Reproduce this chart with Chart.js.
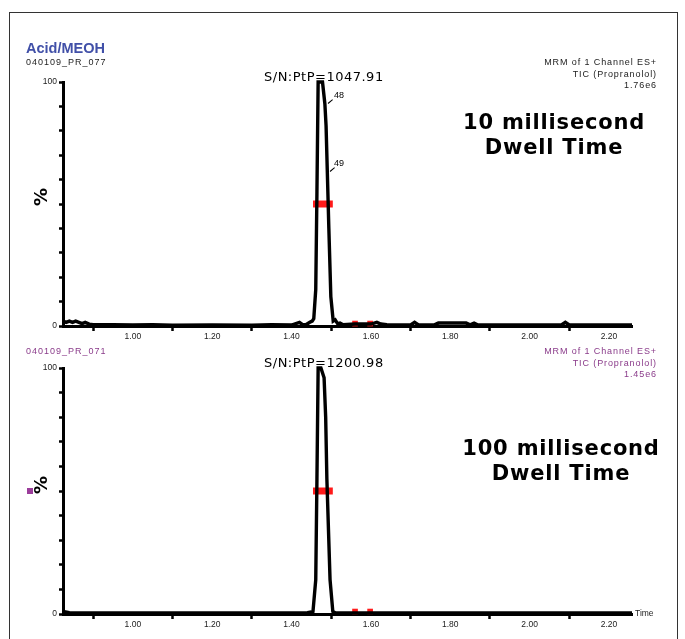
<!DOCTYPE html>
<html><head><meta charset="utf-8">
<script src="https://cdn.jsdelivr.net/npm/chart.js@4/dist/chart.umd.min.js"></script>
<style>
html,body{margin:0;padding:0;background:#fff;}
body{width:685px;height:639px;position:relative;overflow:hidden;font-family:"Liberation Sans",Arial,sans-serif;}
.frame{position:absolute;left:9px;top:12px;width:667px;height:640px;border:1px solid #333;}
canvas{position:absolute;left:0;}
.t{position:absolute;white-space:nowrap;line-height:1;}
.hdr{font-size:9px;letter-spacing:1px;color:#222;}
.rh{position:absolute;right:28px;text-align:right;font-size:9px;letter-spacing:0.9px;line-height:11.5px;white-space:nowrap;}
.sn{font-family:"DejaVu Sans",sans-serif;font-size:13px;letter-spacing:0.5px;color:#000;}
.big{position:absolute;width:240px;text-align:center;font-family:"DejaVu Sans",sans-serif;font-weight:bold;font-size:21px;letter-spacing:0.8px;line-height:25px;color:#000;}
.pct{position:absolute;font-family:"DejaVu Sans",sans-serif;font-weight:bold;font-size:18px;transform:rotate(-90deg);line-height:1;color:#000;}
.pk{font-size:9px;color:#000;}
.hook{position:absolute;width:6px;height:0;border-top:1.5px solid #000;transform:rotate(-40deg);transform-origin:left center;}
</style></head><body>
<div class="frame"></div>
<canvas id="c1" width="685" height="345" style="top:0"></canvas>
<canvas id="c2" width="685" height="294" style="top:345px"></canvas>

<div class="t" style="left:26px;top:41px;font-size:14.5px;font-weight:bold;color:#4150a8;">Acid/MEOH</div>
<div class="t hdr" style="left:26px;top:58px;">040109_PR_077</div>
<div class="rh" style="top:57px;color:#222;">MRM of 1 Channel ES+<br>TIC (Propranolol)<br>1.76e6</div>
<div class="t sn" style="left:264px;top:70px;">S/N:PtP=1047.91</div>
<div class="big" style="left:434px;top:110px;">10 millisecond<br>Dwell Time</div>
<div class="t pk" style="left:334px;top:91px;">48</div>
<div class="hook" style="left:328px;top:103px;"></div>
<div class="t pk" style="left:334px;top:159px;">49</div>
<div class="hook" style="left:330px;top:171px;"></div>
<div class="t pct" style="left:32px;top:188px;">%</div>

<div class="t hdr" style="left:26px;top:347px;color:#8a3b8a;">040109_PR_071</div>
<div class="rh" style="top:346px;color:#8a3b8a;">MRM of 1 Channel ES+<br>TIC (Propranolol)<br>1.45e6</div>
<div class="t sn" style="left:264px;top:356px;">S/N:PtP=1200.98</div>
<div class="big" style="left:441px;top:436px;">100 millisecond<br>Dwell Time</div>
<div class="t pct" style="left:32px;top:476px;">%</div>
<div style="position:absolute;left:27px;top:488px;width:6px;height:6px;background:#9b3d9b;"></div>
<div class="t" style="left:635px;top:609px;font-size:8.5px;color:#222;">Time</div>

<script>
// x axis ticks (minutes) and their labels
const xTickValues = [0.9,1.0,1.1,1.2,1.3,1.4,1.5,1.6,1.7,1.8,1.9,2.0,2.1,2.2];
const xTickLabels = ['','1.00','','1.20','','1.40','','1.60','','1.80','','2.00','','2.20'];
const yTickValues = [0,10,20,30,40,50,60,70,80,90,100];

// 10 ms dwell time trace
const topTimes  = [0.824,0.832,0.840,0.848,0.856,0.864,0.872,0.880,0.890,0.900,0.950,1.000,1.050,1.100,1.200,1.300,1.350,1.400,1.420,1.428,1.436,1.446,1.452,1.456,1.461,1.464,1.467,1.478,1.484,1.487,1.490,1.494,1.499,1.505,1.510,1.516,1.522,1.530,1.560,1.600,1.615,1.625,1.640,1.700,1.710,1.720,1.760,1.770,1.800,1.840,1.850,1.860,1.870,1.900,2.000,2.080,2.090,2.100,2.200,2.258];
const topValues = [2,1.5,2,1.5,2,1.5,1,1.5,0.8,0.5,0.5,0.4,0.5,0.3,0.4,0.3,0.5,0.4,1.5,0.6,0.5,1.5,2,3,15,55,100,100,91,82,64,40,12,2,2.5,1,1.2,0.5,0.8,0.8,1.5,0.8,0.5,0.4,1.5,0.4,0.5,1.2,1.2,1.2,0.5,1.2,0.4,0.4,0.4,0.4,1.5,0.4,0.4,0.4];

// 100 ms dwell time trace
const botTimes  = [0.824,0.840,0.900,1.000,1.100,1.200,1.300,1.400,1.440,1.450,1.454,1.461,1.464,1.467,1.474,1.482,1.486,1.489,1.497,1.504,1.510,1.600,1.700,1.800,1.900,2.000,2.100,2.200,2.258];
const botValues = [1,0.5,0.4,0.4,0.4,0.4,0.4,0.4,0.5,0.8,1,14,55,100,100,96,80,55,14,1,0.5,0.4,0.4,0.4,0.4,0.4,0.4,0.4,0.4];

// peak-width markers (half height) and integration limit markers
const halfTimes = [1.454, 1.504];
const halfLevel = 50;
const markTimes = [1.560, 1.598];
const markLevel = 1;

function pts(xs, ys){ return xs.map((x,i)=>({x:x, y:ys[i]})); }

function makeChart(id, times, values, padTop, xHeight){
  return new Chart(document.getElementById(id), {
    type: 'line',
    data: {
      datasets: [
        {data: pts(times, values), borderColor:'#000', borderWidth:3.4, pointRadius:0, tension:0, clip:false, order:1},
        {data: pts(halfTimes, halfTimes.map(()=>halfLevel)), borderColor:'#ff1a1a', borderWidth:7, pointRadius:0, borderCapStyle:'butt', clip:false, order:2},
        {data: pts(markTimes, markTimes.map(()=>markLevel)), showLine:false, pointStyle:'rect', pointRadius:4, pointBackgroundColor:'#ff1a1a', pointBorderWidth:0, clip:false, order:2}
      ]
    },
    options: {
      responsive:false, animation:false, devicePixelRatio:1,
      layout:{padding:{left:0, right:53, top:padTop, bottom:0}},
      plugins:{legend:{display:false}, tooltip:{enabled:false}},
      scales:{
        x:{type:'linear', min:0.824, max:2.258,
          afterBuildTicks: s => { s.ticks = xTickValues.map(v=>({value:v})); },
          afterFit: s => { s.height = xHeight; },
          ticks:{autoSkip:false, maxRotation:0, padding:1, color:'#222',
            font:{family:'Liberation Sans', size:8.5},
            callback:(v,i)=>xTickLabels[i]},
          grid:{drawOnChartArea:false, drawTicks:true, tickLength:5, tickWidth:2.5,
            tickColor: c => (xTickLabels[c.index] ? 'rgba(0,0,0,0)' : '#000')},
          border:{color:'#000', width:3}
        },
        y:{type:'linear', min:0, max:100,
          afterBuildTicks: s => { s.ticks = yTickValues.map(v=>({value:v})); },
          afterFit: s => { s.width = 63; },
          ticks:{autoSkip:false, padding:2, color:'#222',
            font:{family:'Liberation Sans', size:8.5},
            callback: v => (v===0 ? '0' : (v===100 ? '100' : ''))},
          grid:{drawOnChartArea:false, drawTicks:true, tickLength:4, tickWidth:2.5, tickColor:'#000'},
          border:{color:'#000', width:3}
        }
      }
    }
  });
}

makeChart('c1', topTimes, topValues, 82, 19);
makeChart('c2', botTimes, botValues, 23, 25);
</script>
</body></html>
